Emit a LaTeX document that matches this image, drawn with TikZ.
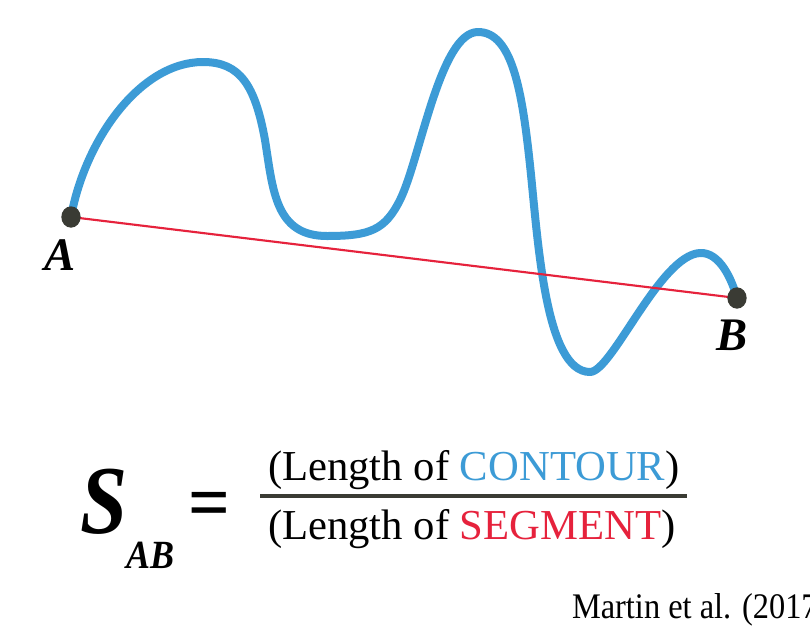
\documentclass[tikz,border=0pt]{standalone}
\usepackage{fontspec}
\setmainfont{Liberation Serif}
\usetikzlibrary{shapes.geometric}
\definecolor{cblue}{HTML}{3C9BD6}
\definecolor{cred}{HTML}{E6223C}
\definecolor{dotgray}{HTML}{3A3B34}
\tikzset{
  txt/.style={anchor=base west, inner sep=0pt, outer sep=0pt},
  endpt/.style={ellipse, fill=dotgray, minimum width=14.5pt, minimum height=16pt, inner sep=0pt},
  lbl/.style={txt, font=\fontsize{35}{35}\selectfont\bfseries\itshape},
}
\begin{document}
\begin{tikzpicture}[x=0.75pt,y=-0.75pt]
\useasboundingbox (0,0) rectangle (810,636);
\clip (0,0) rectangle (810,636);
\fill[white] (0,0) rectangle (810,636);
\coordinate (A) at (71,217);
\coordinate (B) at (737,298);
% contour
\draw[cblue, line width=6pt, line cap=round, line join=round]
  (A) .. controls (85,140) and (140,62) .. (203,62)
      .. controls (240,62) and (255,85) .. (265,140)
      .. controls (273,190) and (275,236) .. (327,236)
      .. controls (370,236) and (385,230) .. (400,200)
      .. controls (420,160) and (440,32) .. (478,32)
      .. controls (512,32) and (522,90) .. (530,165)
      .. controls (538,240) and (545,372) .. (590,372)
      .. controls (612,372) and (660,255) .. (700,253)
      .. controls (720,252) and (732,280) .. (B);
% segment
\draw[cred, line width=1.6pt] (A) -- (B);
\node[endpt] (dA) at (A) {};
\node[endpt] (dB) at (B) {};
\node[lbl] (labA) at (44,270) {A};
\node[lbl] (labB) at (716,350) {B};
% formula
\node[txt, font=\fontsize{73}{73}\selectfont\bfseries\itshape, xscale=0.87, transform shape] (S) at (80,533) {S};
\node[txt, font=\fontsize{30}{30}\selectfont\bfseries\itshape, xscale=0.9, transform shape] (sub) at (126,568) {AB};
\node[inner sep=0pt, font=\fontsize{58}{58}\selectfont\bfseries, xscale=0.95, transform shape] (eq) at (209.5,510.5) {=};
\coordinate (barL) at (260,496);
\coordinate (barR) at (687,496);
\draw[dotgray, line width=2.3pt] (barL) -- (barR);
\node[txt, font=\fontsize{32}{32}\selectfont] (num) at (268,480) {(Length of \textcolor{cblue}{CONTOUR})};
\node[txt, font=\fontsize{32}{32}\selectfont] (den) at (268,539) {(Length of \textcolor{cred}{SEGMENT})};
\node[txt, font=\fontsize{27}{27}\selectfont, xscale=0.9, transform shape] (cite) at (572,618) {Martin et al. (2017};
\end{tikzpicture}
\end{document}
